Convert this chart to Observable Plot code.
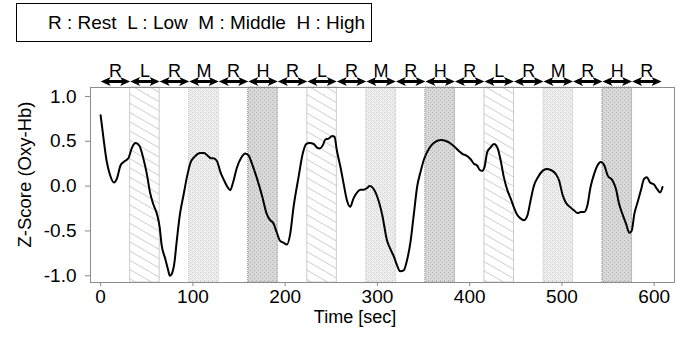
<!DOCTYPE html>
<html><head><meta charset="utf-8">
<script src="https://cdn.jsdelivr.net/npm/d3@7"></script>
<script src="https://cdn.jsdelivr.net/npm/@observablehq/plot@0.6"></script>
<style>
body{margin:0;background:#fff;font-family:"Liberation Sans",Arial,sans-serif;}
#wrap{position:relative;width:688px;height:337px;overflow:hidden;background:#fff;}
#legend{position:absolute;left:16px;top:3px;width:356px;height:39px;box-sizing:border-box;border:1.5px solid #000;background:#fff;z-index:2;}
#legend span{position:absolute;left:31px;top:8px;font-size:19px;white-space:pre;line-height:normal;color:#000;}
#wrap svg{position:absolute;left:0;top:0;}
</style></head><body>
<div id="wrap"><div id="legend"><span id="legtext"></span></div></div>
<script>
const time = [0,3,6.5,10,14.5,17.5,21.5,25,30,34,38,42,46,50,53.5,57,61,64,66,70,73,75,77,80,82.5,86,90,93.5,97,102,108,112,117,119.5,122,126,130,134,137.5,140.5,143.5,147.5,152.5,156.7,160.5,164,169,175,180,183,187.5,191,194.5,198,202,205.5,209,214.5,219,223,226.5,231,234.5,237.5,241,243.5,247,251,253.5,256,260,263.5,267,270.5,274,278,281.5,285,289,291.5,295,299.5,305,310.5,314,318,321.5,324.5,328.5,332,336,339.5,343,347,350.5,356,361,368.5,375,380,384.5,388.5,392,396.5,401,404.5,408,411,413.5,416,419,422.5,426.3,430,433.5,437,441,444.5,448,451.5,455,459,462.5,466,469.5,474,479,483.5,488,493,497,500.5,504,509.5,513,517,520.5,524,527.5,531,535,538.5,542,546,549.5,555,558.5,562,565.5,569.5,573,575.5,578.5,582,585.5,589,592,595.5,599.5,603,606.5,609];
const zscore = [0.79,0.54,0.28,0.13,0.04,0.08,0.23,0.27,0.31,0.43,0.48,0.45,0.32,0.14,-0.07,-0.2,-0.31,-0.46,-0.65,-0.81,-0.93,-1.0,-0.98,-0.85,-0.61,-0.31,-0.09,0.1,0.25,0.33,0.37,0.37,0.33,0.31,0.31,0.28,0.15,0.06,-0.01,-0.045,0.04,0.2,0.32,0.365,0.34,0.25,0.1,-0.11,-0.31,-0.37,-0.42,-0.52,-0.61,-0.63,-0.65,-0.53,-0.24,0.1,0.36,0.47,0.48,0.47,0.43,0.42,0.46,0.52,0.53,0.56,0.55,0.40,0.21,0.02,-0.16,-0.23,-0.14,-0.07,-0.04,-0.04,-0.02,0.0,-0.02,-0.11,-0.31,-0.61,-0.70,-0.79,-0.89,-0.95,-0.94,-0.83,-0.61,-0.31,-0.01,0.17,0.30,0.42,0.48,0.515,0.50,0.47,0.43,0.39,0.36,0.34,0.30,0.25,0.23,0.18,0.17,0.21,0.38,0.43,0.47,0.43,0.29,0.10,-0.05,-0.14,-0.24,-0.32,-0.36,-0.38,-0.33,-0.16,0.0,0.10,0.17,0.19,0.18,0.14,0.06,-0.09,-0.18,-0.24,-0.27,-0.30,-0.29,-0.29,-0.22,-0.01,0.14,0.23,0.27,0.23,0.12,0.06,-0.03,-0.20,-0.31,-0.42,-0.52,-0.50,-0.31,-0.18,-0.05,0.08,0.10,0.04,0.02,-0.03,-0.07,-0.01];
const blockLabels = ["R","L","R","M","R","H","R","L","R","M","R","H","R","L","R","M","R","H","R"];
const blockStart = [0,32,64,96,128,160,192,224,256,288,320,352,384,416,448,480,512,544,576];
const blockEnd = [32,64,96,128,160,192,224,256,288,320,352,384,416,448,480,512,544,576,608];
const xTicks = [0,100,200,300,400,500,600];
const yTicks = [-1.0,-0.5,0.0,0.5,1.0];
const legendItems = ["R : Rest","L : Low","M : Middle","H : High"];
const xTitle = "Time [sec]";
const yTitle = "Z-Score (Oxy-Hb)";

document.getElementById("legtext").textContent = legendItems.join("  ");

const series = time.map((t, i) => ({t, z: zscore[i]}));
const blocks = blockLabels.map((c, i) => ({c, s: blockStart[i], e: blockEnd[i], m: (blockStart[i] + blockEnd[i]) / 2}));
const yDomain = [-1.075, 1.1];

const fills = {L: "url(#patL)", M: "url(#patM)", H: "url(#patH)"};
const edges = {L: "#cccccc", M: "#c0c0c0", H: "#8a8a8a"};

const rightHead = {draw(ctx) {ctx.moveTo(0, 0); ctx.lineTo(-10, -4.5); ctx.lineTo(-7.5, 0); ctx.lineTo(-10, 4.5); ctx.closePath();}};
const leftHead = {draw(ctx) {ctx.moveTo(0, 0); ctx.lineTo(10, -4.5); ctx.lineTo(7.5, 0); ctx.lineTo(10, 4.5); ctx.closePath();}};

function patternDefs() {
  const d = d3.create("svg:defs");
  const pl = d.append("pattern").attr("id", "patL").attr("patternUnits", "userSpaceOnUse")
    .attr("width", 8).attr("height", 8).attr("patternTransform", "rotate(30)");
  pl.append("rect").attr("width", 8).attr("height", 8).attr("fill", "#fff");
  pl.append("line").attr("x1", 0).attr("x2", 8).attr("y1", 0.5).attr("y2", 0.5).attr("stroke", "#d2d2d2").attr("stroke-width", 1);
  const pm = d.append("pattern").attr("id", "patM").attr("patternUnits", "userSpaceOnUse").attr("width", 4).attr("height", 4);
  pm.append("rect").attr("width", 4).attr("height", 4).attr("fill", "#ececec");
  pm.append("rect").attr("x", 0).attr("y", 0).attr("width", 1).attr("height", 1).attr("fill", "#d0d0d0");
  pm.append("rect").attr("x", 2).attr("y", 2).attr("width", 1).attr("height", 1).attr("fill", "#d0d0d0");
  const ph = d.append("pattern").attr("id", "patH").attr("patternUnits", "userSpaceOnUse").attr("width", 4).attr("height", 4);
  ph.append("rect").attr("width", 4).attr("height", 4).attr("fill", "#d8d8d8");
  ph.append("rect").attr("x", 0).attr("y", 0).attr("width", 1).attr("height", 1).attr("fill", "#b4b4b4");
  ph.append("rect").attr("x", 2).attr("y", 2).attr("width", 1).attr("height", 1).attr("fill", "#b4b4b4");
  return d.node();
}

const shadeMarks = ["L", "M", "H"].map(c => Plot.rect(blocks.filter(b => b.c === c), {
  x1: "s", x2: "e", fill: fills[c], stroke: edges[c], strokeWidth: 1,
  strokeDasharray: c === "L" ? null : "1,1"
}));

const chart = Plot.plot({
  width: 688, height: 337,
  marginLeft: 90, marginRight: 14, marginTop: 87, marginBottom: 55,
  x: {domain: [-11, 622]},
  y: {domain: yDomain},
  style: {fontFamily: "'Liberation Sans', Arial, sans-serif", fontSize: "18px", color: "#000", background: "transparent", overflow: "visible"},
  marks: [
    patternDefs,
    ...shadeMarks,
    Plot.frame({stroke: "#8c8c8c"}),
    Plot.axisX({ticks: xTicks, tickSize: 4, tickPadding: 3, fontSize: 19, stroke: "#888", fill: "#000", label: null}),
    Plot.axisY({ticks: yTicks, tickFormat: d => d.toFixed(1), tickSize: 5, tickPadding: 9, fontSize: 19, stroke: "#888", fill: "#000", label: null}),
    Plot.line(series, {x: "t", y: "z", stroke: "#000", strokeWidth: 2, curve: "monotone-x"}),
    Plot.ruleY(blocks, {x1: "s", x2: "e", y: () => yDomain[1], dy: -6, stroke: "#000", strokeWidth: 3, insetLeft: 4, insetRight: 4}),
    Plot.dot(blocks, {x: "s", frameAnchor: "top", dy: -6, symbol: leftHead, fill: "#000", stroke: "none"}),
    Plot.dot(blocks, {x: "e", frameAnchor: "top", dy: -6, symbol: rightHead, fill: "#000", stroke: "none"}),
    Plot.text(blocks, {x: "m", text: "c", frameAnchor: "top", dy: -11, lineAnchor: "bottom", fontSize: 18, fill: "#000"}),
    Plot.text([xTitle], {text: d => d, frameAnchor: "bottom", textAnchor: "middle", dx: -27.5, dy: 40, lineAnchor: "bottom", fontSize: 18, fill: "#000"}),
    Plot.text([yTitle], {text: d => d, frameAnchor: "left", textAnchor: "middle", rotate: -90, dx: -60, dy: -10.5, lineAnchor: "bottom", fontSize: 18.5, fill: "#000"})
  ]
});
document.getElementById("wrap").appendChild(chart);
</script>
</body></html>
